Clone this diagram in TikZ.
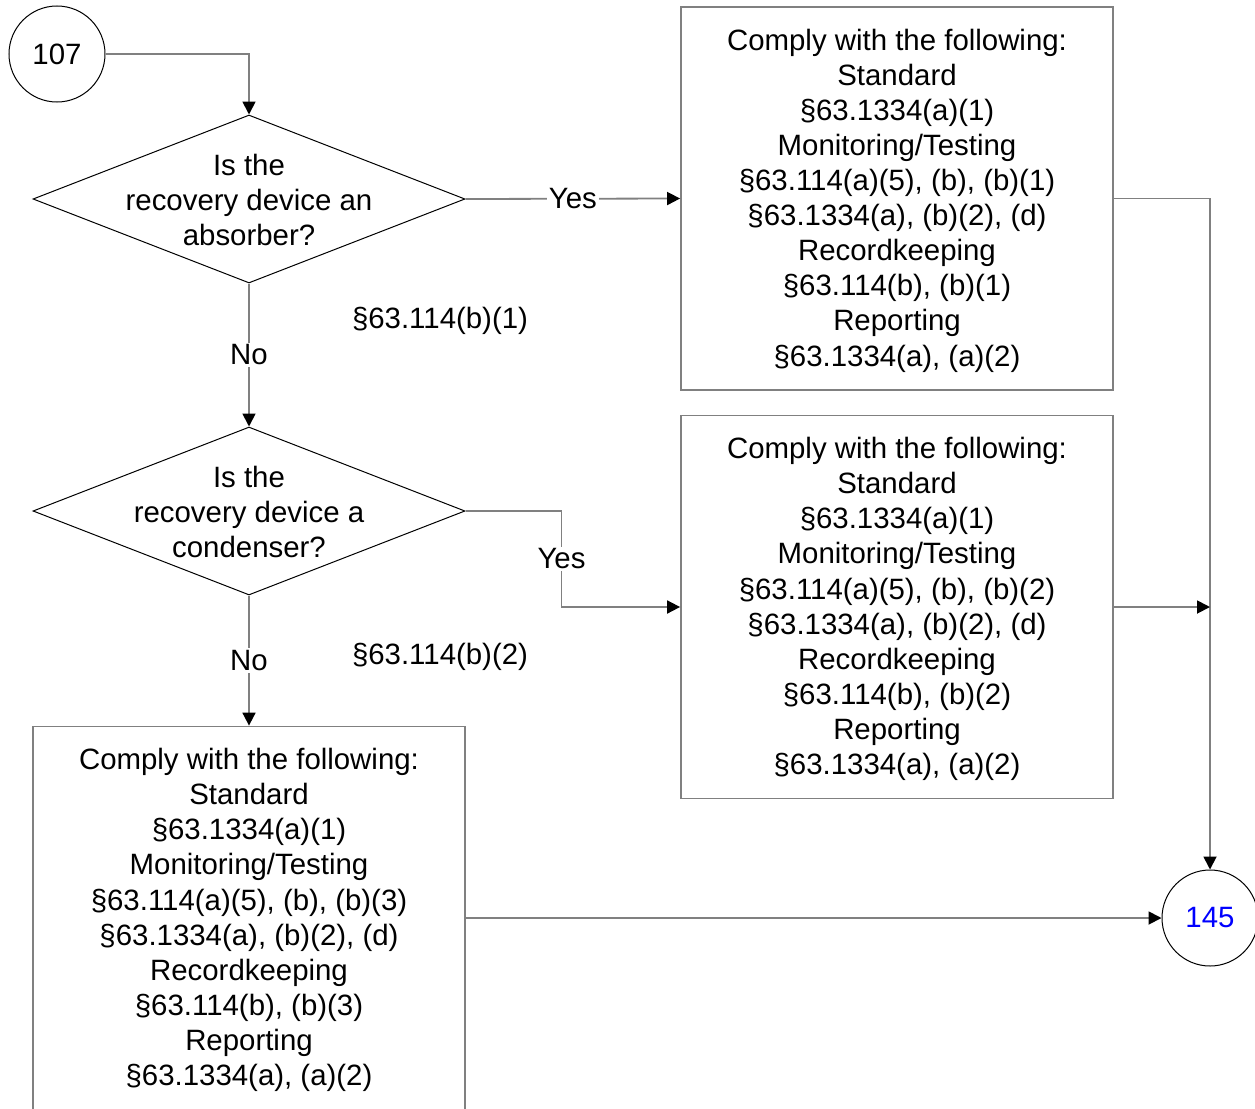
\documentclass[tikz,border=0pt]{standalone}
\usepackage{fontspec}
\setmainfont{Liberation Sans}
\usetikzlibrary{arrows.meta,shapes.geometric}
\begin{document}
\begin{tikzpicture}[x=1pt,y=-1pt,
  every node/.style={font=\fontsize{29.4}{35.1}\selectfont},
  circ/.style={circle,draw=black,line width=1pt,minimum size=96pt,inner sep=0pt},
  dia/.style={diamond,draw=black,line width=1pt,minimum width=432pt,minimum height=168pt,inner sep=0pt},
  box/.style={rectangle,draw=gray,line width=1.8pt,minimum width=432pt,minimum height=383pt,inner sep=0pt},
  boxtext/.style={align=center,yshift=-2pt},
  conn/.style={draw=gray,line width=1.8pt,-{Triangle[length=13pt,width=13pt,color=black]}},
  lab/.style={fill=white,inner sep=2pt}]
\useasboundingbox (0,0) rectangle (1255,1108);
\node[circ] (c107) at (57,54) {107};
\node[circ,text=blue] (c145) at (1210,918) {145};
\node[dia,label={[align=center,yshift=-1pt]center:Is the\\recovery device an\\absorber?}] (d1) at (249,199) {};
\node[dia,label={[align=center,yshift=-1pt]center:Is the\\recovery device a\\condenser?}] (d2) at (249,511) {};
\node[box,label={[boxtext]center:Comply with the following:\\Standard\\§63.1334(a)(1)\\Monitoring/Testing\\§63.114(a)(5), (b), (b)(1)\\§63.1334(a), (b)(2), (d)\\Recordkeeping\\§63.114(b), (b)(1)\\Reporting\\§63.1334(a), (a)(2)}] (b1) at (897,198.5) {};
\node[box,label={[boxtext]center:Comply with the following:\\Standard\\§63.1334(a)(1)\\Monitoring/Testing\\§63.114(a)(5), (b), (b)(2)\\§63.1334(a), (b)(2), (d)\\Recordkeeping\\§63.114(b), (b)(2)\\Reporting\\§63.1334(a), (a)(2)}] (b2) at (897,607) {};
\node[box,label={[boxtext]center:Comply with the following:\\Standard\\§63.1334(a)(1)\\Monitoring/Testing\\§63.114(a)(5), (b), (b)(3)\\§63.1334(a), (b)(2), (d)\\Recordkeeping\\§63.114(b), (b)(3)\\Reporting\\§63.1334(a), (a)(2)}] (b3) at (249,918) {};
\node (r1) at (440,321) {§63.114(b)(1)};
\node (r2) at (440,657) {§63.114(b)(2)};
\draw[conn] (c107.east) -| (d1.north);
\draw[conn] (d1.east) -- node[lab,pos=0.5] {Yes} (b1.west);
\draw[conn] (d1.south) -- node[lab,pos=0.5] {No} (d2.north);
\draw[conn] (d2.east) -- ++(96,0) |- node[lab,pos=0.25] {Yes} (b2.west);
\draw[conn] (d2.south) -- node[lab,pos=0.5] {No} (b3.north);
\draw[conn] (b1.east) -| (c145.north);
\draw[conn] (b2.east) -- (b2.east -| c145.north);
\draw[conn] (b3.east) -- (c145.west);
\end{tikzpicture}
\end{document}
